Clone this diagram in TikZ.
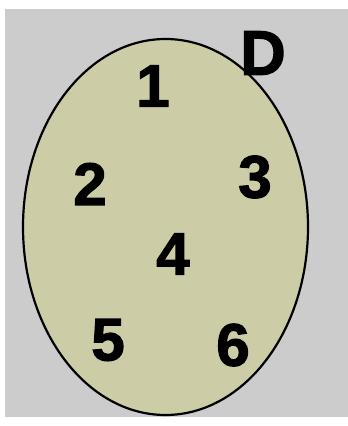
\documentclass[tikz,border=0pt]{standalone}
\usepackage{fontspec}
\setmainfont{Liberation Sans}
\newfontfamily\heavyfont[FakeBold=2]{Liberation Sans Bold}
\definecolor{bggray}{RGB}{204,204,204}
\definecolor{eggfill}{RGB}{204,204,166}
\begin{document}
\begin{tikzpicture}[x=1pt,y=-1pt,
  lbl/.style={font=\heavyfont\fontsize{60}{62}\selectfont, inner sep=0pt, anchor=center}]
\useasboundingbox (0,0) rectangle (348,426);
\fill[white] (0,0) rectangle (348,426);
\fill[bggray] (5,9) rectangle (348,417);
\draw[line width=2.2pt, fill=eggfill] (165.5,227) ellipse [x radius=142.5, y radius=188];
\node[lbl] (n1) at (153,86) {1};
\node[lbl] (n2) at (90,184) {2};
\node[lbl] (n3) at (255,177) {3};
\node[lbl] (n4) at (173,254) {4};
\node[lbl] (n5) at (108,340) {5};
\node[lbl] (n6) at (233,345) {6};
\node[lbl, font=\heavyfont\fontsize{63}{65}\selectfont] (d) at (263,53) {D};
\end{tikzpicture}
\end{document}
